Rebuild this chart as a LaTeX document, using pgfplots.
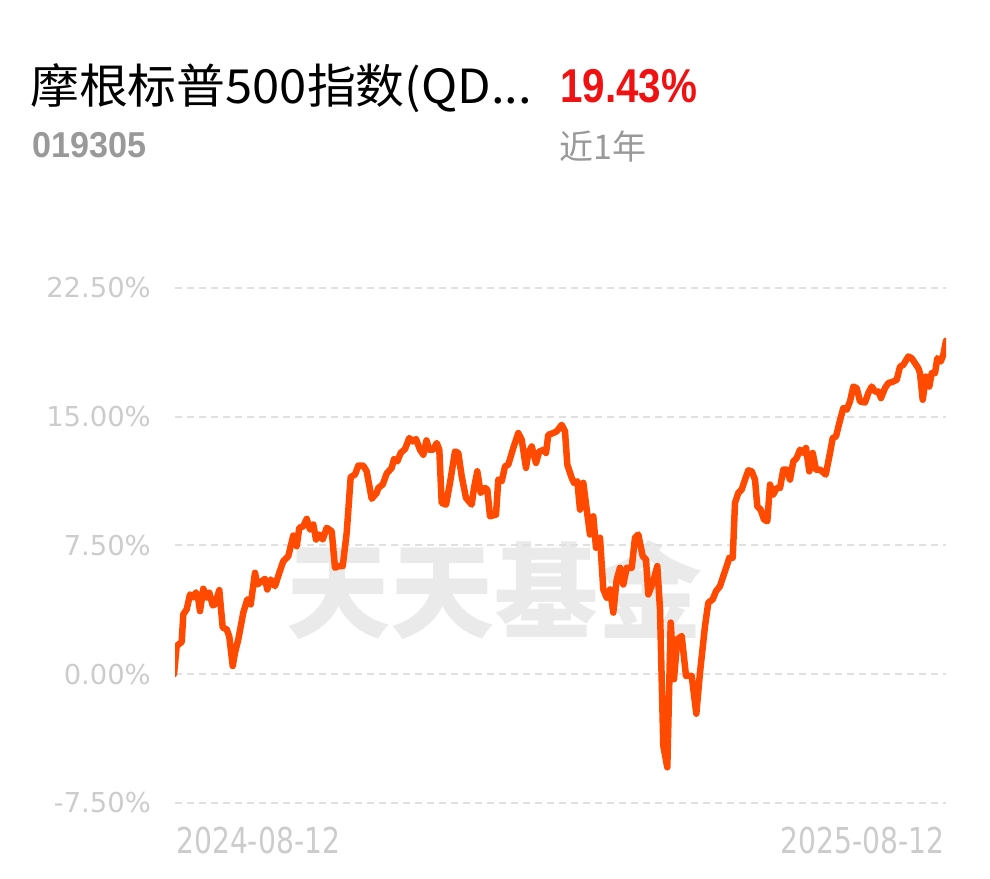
\documentclass[border=0pt]{standalone}
\usepackage{pgfplots}
\pgfplotsset{compat=1.18}
\usepackage{fontspec}
\setmainfont{Liberation Sans}
\newfontfamily\cjk{Noto Sans CJK SC}
\newfontfamily\tickfont{DejaVu Sans}
\definecolor{fundline}{RGB}{255,74,0}
\definecolor{gridgray}{RGB}{224,224,224}
\definecolor{ticktext}{RGB}{204,204,204}
\definecolor{subgray}{RGB}{153,153,153}
\definecolor{markgray}{RGB}{234,234,234}
\definecolor{upred}{RGB}{240,18,18}
\begin{document}
\begin{tikzpicture}[x=1pt,y=1pt]
\useasboundingbox (0,0) rectangle (990,878);
% header
\node[anchor=base west,inner sep=0pt] at (30,774) {\scalebox{1.04}[1]{\cjk\fontsize{47}{50}\selectfont 摩根标普500指数(QD...}};
\node[anchor=base west,inner sep=0pt] at (560,775) {\color{upred}\scalebox{0.85}[1]{\fontsize{47.5}{50}\selectfont\bfseries 19.43\%}};
\node[anchor=base west,inner sep=0pt] at (32,720) {\color{subgray}\scalebox{0.95}[1]{\fontsize{36}{40}\selectfont\bfseries 019305}};
\node[anchor=base west,inner sep=0pt] at (559,718) {\color{subgray}\cjk\fontsize{34}{38}\selectfont 近1年};
% watermark
\node[inner sep=0pt] at (494,288.5) {\color{markgray}\cjk\fontsize{104}{110}\selectfont\bfseries 天天基金};
\begin{axis}[
  at={(175pt,75pt)}, anchor=south west,
  width=771pt, height=515pt, scale only axis,
  xmin=175, xmax=946, ymin=-7.5, ymax=22.5,
  xtick=\empty,
  ytick={-7.5,0,7.5,15,22.5},
  yticklabels={-7.50\%,0.00\%,7.50\%,15.00\%,22.50\%},
  yticklabel style={font=\tickfont\fontsize{27.4}{30}\selectfont, text=ticktext, inner sep=0pt, anchor=east, xshift=-24pt},
  axis line style={draw=none},
  major tick length=0pt,
  ymajorgrids,
  grid style={dash pattern=on 7pt off 5pt, line width=2pt, color=gridgray},
]
\addplot[color=fundline, line width=6.5pt, line join=round, line cap=round] coordinates {
(174,0.00) (176.7,1.65) (181.7,1.88) (183.3,3.49) (186.7,3.78) (190,4.65)
(193.3,4.48) (196,4.77) (198.3,4.36) (200,3.68) (203.3,4.98) (206.7,4.46)
(209.3,4.75) (212.7,4.01) (215,4.07) (219.3,4.90) (222.7,2.72) (226.7,2.62)
(229.3,2.19) (232.7,0.48) (235,1.26) (238.3,2.03) (243.3,3.59) (247.3,4.36)
(250.7,4.07) (255,5.91) (257.3,5.23) (261.7,5.42) (265,5.56) (267.3,4.94)
(270.7,5.52) (275,5.13) (279.3,5.91) (283.3,6.59) (288.3,6.88) (293.3,8.08)
(296.7,7.46) (299.3,8.53) (303.3,8.62) (306.7,9.05) (310,8.43) (313.3,8.72)
(316,7.85) (319.3,8.14) (322.7,7.85) (326.7,8.53) (331.7,8.33) (335,6.20)
(338.3,6.30) (342.7,6.30) (346.7,8.24) (350.7,11.49) (355,11.63) (358.3,12.15)
(363.3,12.15) (366.7,11.82) (371.7,10.22) (376.7,10.56) (378.3,10.85) (382.7,11.05)
(386.7,11.69) (391.7,12.02) (394,12.54) (397.3,12.40) (400.7,12.89) (405,13.12)
(409.3,13.76) (412.7,13.56) (416,13.70) (420,13.08) (423.3,12.79) (426.5,13.62)
(429.3,13.08) (433.3,13.08) (436.7,13.47) (439.3,13.08) (441.7,9.98) (446,9.88)
(450,11.15) (455,12.98) (458.3,12.89) (461.7,11.53) (466,10.27) (471.7,9.88)
(474,10.85) (477.3,11.82) (480.7,10.56) (485,10.85) (487.3,10.76) (490,9.20)
(496,9.30) (498.3,11.34) (501.7,11.24) (505,12.11) (508.3,12.21) (513.3,13.18)
(518.3,14.05) (521.7,13.66) (526,12.02) (528.3,12.89) (531.7,13.27) (536,12.31)
(539.3,12.98) (544,13.08) (546,12.89) (548.3,13.95) (553.3,14.05) (556.7,14.15)
(561.7,14.53) (565,14.15) (567.3,12.21) (571.7,11.44) (574,11.15) (577.3,11.24)
(580,9.59) (583.3,11.15) (586.7,9.59) (590,8.14) (593.3,9.20) (596,7.37)
(600,7.95) (603.3,4.94) (606.7,4.46) (610,4.94) (613.3,3.59) (616.7,5.52)
(620,6.20) (623.3,5.23) (626.7,6.20) (631.7,6.20) (635,7.95) (638.3,8.14)
(642.7,6.88) (646,6.69) (648.3,4.65) (653.3,5.42) (657.3,6.30) (660,3.78)
(663.3,-4.17) (667.3,-5.42) (670.7,3.01) (674,-0.29) (677.3,2.03) (681.7,2.23)
(686,-0.10) (691.7,-0.10) (696.3,-2.30) (700,0.10) (705,2.81) (708.3,4.17)
(712.7,4.36) (716,4.84) (720,5.13) (723.3,5.72) (726.7,6.30) (729.3,6.78)
(732.7,6.78) (735,9.98) (738.3,10.56) (741.7,10.76) (745,11.34) (748.3,11.88)
(751.7,11.82) (755,11.34) (757.3,9.78) (760.7,9.59) (764,9.01) (767.3,8.91)
(770,11.05) (773.3,10.47) (776.7,10.85) (780,10.85) (783.3,11.92) (786.7,11.92)
(790,11.34) (793.3,12.40) (796.7,12.60) (800,13.08) (803.3,12.89) (806,13.18)
(809.3,11.82) (812.7,12.89) (816,11.92) (820,11.92) (825.7,11.63) (830,12.89)
(832.7,13.76) (836,13.85) (839.3,14.63) (843.3,15.51) (846.7,15.41) (850,15.89)
(853.3,16.76) (856.7,16.67) (860,15.89) (865,15.83) (868.3,16.38) (871.7,16.76)
(875,16.47) (878.3,16.47) (881,16.09) (885,16.67) (888.3,16.96) (893.3,17.05)
(896.7,17.15) (900,17.92) (903.3,18.02) (908.3,18.51) (911.7,18.41) (918.3,17.83)
(920,17.54) (922.7,15.99) (926,17.34) (929.3,16.76) (931.7,17.54) (935,17.54)
(937.3,18.41) (940.7,18.22) (943.3,18.60) (946,19.43)
};
\end{axis}
% date labels
\node[anchor=base west,inner sep=0pt] at (176,25) {\color{ticktext}\scalebox{0.79}[1]{\tickfont\fontsize{35.7}{40}\selectfont 2024-08-12}};
\node[anchor=base east,inner sep=0pt] at (945,25) {\color{ticktext}\scalebox{0.79}[1]{\tickfont\fontsize{35.7}{40}\selectfont 2025-08-12}};
\end{tikzpicture}
\end{document}
